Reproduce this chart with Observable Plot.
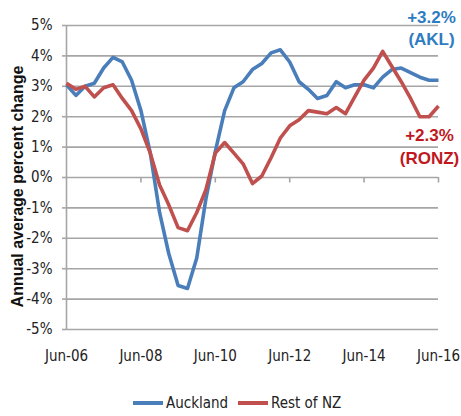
<!DOCTYPE html>
<html>
<head>
<meta charset="utf-8">
<script src="https://cdn.jsdelivr.net/npm/d3@7"></script>
<script src="https://cdn.jsdelivr.net/npm/@observablehq/plot@0.6"></script>
<style>
  html, body { margin: 0; padding: 0; background: #fff; }
  #wrap { width: 461px; height: 416px; position: relative; overflow: hidden; }
  #legend { position: absolute; left: 0; top: 380px; width: 461px; height: 36px;
    font-family: 'Liberation Sans Narrow', 'DejaVu Sans Condensed', sans-serif; font-size: 15px; color: #222; }
  .sw { position: absolute; height: 4px; width: 30px; top: 21px; }
  .lt { position: absolute; top: 13px; line-height: 20px; }
</style>
</head>
<body>
<div id="wrap">
  <div id="chart"></div>
  <div id="legend"></div>
</div>
<script>
// Quarterly, Jun-06 .. Jun-16
const seriesNames = ["Auckland", "Rest of NZ"];
const seriesColors = ["#4A7EBB", "#C0504D"];
const auckland = [3.05, 2.7, 3.0, 3.1, 3.6, 3.95, 3.8, 3.2, 2.2, 0.8,
  -1.15, -2.5, -3.55, -3.65, -2.65, -0.7, 0.85, 2.2, 2.95, 3.15,
  3.55, 3.75, 4.1, 4.2, 3.8, 3.15, 2.9, 2.6, 2.7, 3.15,
  2.95, 3.05, 3.05, 2.95, 3.3, 3.55, 3.6, 3.45, 3.3, 3.2, 3.2];
const restOfNZ = [3.1, 2.9, 3.0, 2.65, 2.95, 3.05, 2.6, 2.2, 1.6, 0.8,
  -0.25, -0.9, -1.65, -1.75, -1.15, -0.4, 0.8, 1.15, 0.8, 0.45,
  -0.2, 0.05, 0.65, 1.3, 1.7, 1.9, 2.2, 2.15, 2.1, 2.3,
  2.1, 2.65, 3.2, 3.6, 4.15, 3.65, 3.15, 2.6, 2.0, 2.0, 2.35];
const xTickLabels = ["Jun-06", "Jun-08", "Jun-10", "Jun-12", "Jun-14", "Jun-16"];
const yTicks = [-5, -4, -3, -2, -1, 0, 1, 2, 3, 4, 5];
const aklLabels = ["+3.2%", "(AKL)"];
const ronzLabels = ["+2.3%", "(RONZ)"];
const yTitle = "Annual average percent change";

const start = new Date(Date.UTC(2006, 5, 1));
const end = new Date(Date.UTC(2016, 5, 1));
const dates = d3.utcMonth.range(start, d3.utcMonth.offset(end, 1), 3);
const xTickDates = xTickLabels.map(s => d3.utcParse("%b-%y")(s));

const data = [];
dates.forEach((d, i) => {
  data.push({date: d, value: auckland[i], series: seriesNames[0]});
  data.push({date: d, value: restOfNZ[i], series: seriesNames[1]});
});

const grid = "#a6a6a6";
const tickFont = "'Liberation Sans Narrow', 'DejaVu Sans Condensed', sans-serif";
const boldFont = "'Liberation Sans', Arial, sans-serif";

const chart = Plot.plot({
  width: 461,
  height: 380,
  marginLeft: 66,
  marginRight: 23,
  marginTop: 25,
  marginBottom: 51,
  style: {fontFamily: tickFont, fontSize: "15px", color: "#222", background: "#fff"},
  x: {type: "utc", domain: [start, end]},
  y: {domain: [-5, 5]},
  color: {domain: seriesNames, range: seriesColors},
  marks: [
    Plot.ruleY(yTicks, {stroke: grid, strokeWidth: 1.6}),
    Plot.ruleX([start], {y1: -5, y2: 5, stroke: grid, strokeWidth: 1.6}),
    Plot.ruleX(xTickDates.slice(1), {y1: 0, y2: -0.18, stroke: grid, strokeWidth: 1.6}),
    Plot.axisY({ticks: yTicks, tickFormat: d => d + "%", tickSize: 4, tickPadding: 10,
      stroke: grid, strokeWidth: 1.6, strokeOpacity: 1, label: null, fill: "#222"}),
    Plot.axisX({ticks: xTickDates, tickFormat: d3.utcFormat("%b-%y"), tickSize: 0,
      tickPadding: 21, label: null, fill: "#222"}),
    Plot.line(data, {x: "date", y: "value", stroke: "series", strokeWidth: 3.6,
      strokeLinejoin: "round", strokeLinecap: "butt", z: "series"}),
    Plot.text([yTitle], {frameAnchor: "left", textAnchor: "middle", rotate: -90, dx: -49, dy: 0, text: d => d,
      fontFamily: boldFont, fontWeight: "bold", fontSize: 16, fill: "#111",
      letterSpacing: 1.8}),
    Plot.text(aklLabels, {x: () => end, y: () => 5, text: d => d,
      fontFamily: boldFont, fontWeight: "bold", fontSize: 17, fill: "#2E7CC2"}),
    Plot.text(ronzLabels, {x: () => end, y: () => 0, text: d => d,
      fontFamily: boldFont, fontWeight: "bold", fontSize: 17, fill: "#C0181E"})
  ]
});

// position annotation lines (offsets in px)
const textGroups = chart.querySelectorAll("g[aria-label='text']");
function offsetGroup(g, dx, dys) {
  g.querySelectorAll("text").forEach((t, i) => {
    const tr = t.getAttribute("transform") || "";
    t.setAttribute("transform", tr + ` translate(${dx},${dys[i]})`);
  });
}
// title is rotated: a negative first offset moves it down on screen
offsetGroup(textGroups[0], -9, [0]);
offsetGroup(textGroups[1], -7, [-8, 14]);
offsetGroup(textGroups[2], -9, [-42, -19]);

document.getElementById("chart").appendChild(chart);

const legend = document.getElementById("legend");
const legPos = [[133, 166], [238, 271]];
seriesNames.forEach((n, i) => {
  const sw = document.createElement("div");
  sw.className = "sw";
  sw.style.left = legPos[i][0] + "px";
  sw.style.background = seriesColors[i];
  legend.appendChild(sw);
  const lt = document.createElement("div");
  lt.className = "lt";
  lt.style.left = legPos[i][1] + "px";
  lt.textContent = n;
  legend.appendChild(lt);
});
</script>
</body>
</html>
